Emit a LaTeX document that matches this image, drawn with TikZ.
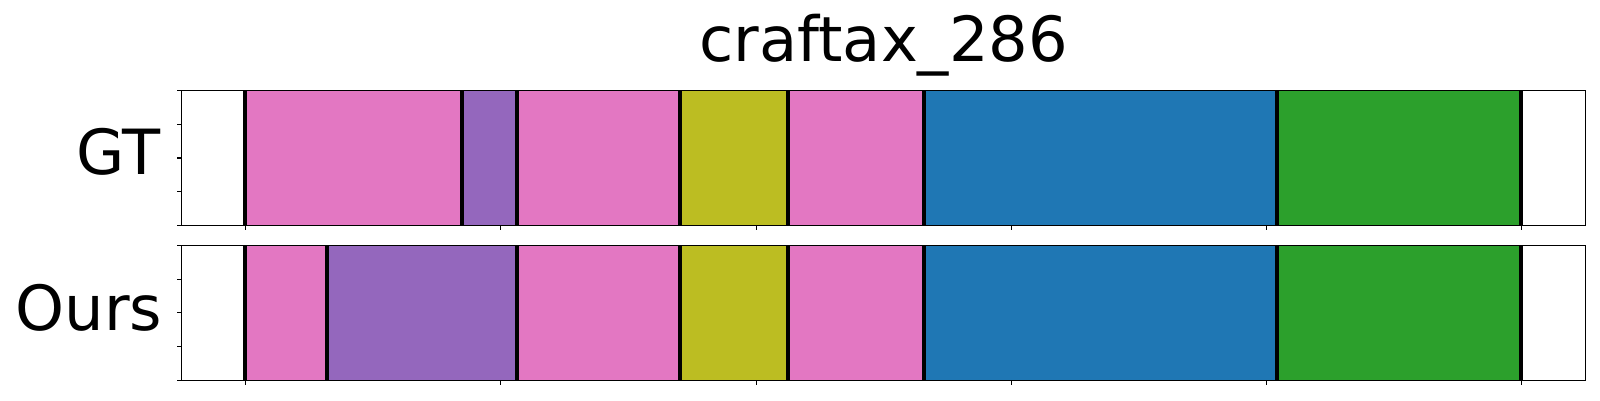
\documentclass[tikz,border=0pt]{standalone}
\usepackage{fontspec}
\setmainfont{DejaVu Sans}
\definecolor{tpink}{HTML}{E377C2}
\definecolor{tpurple}{HTML}{9467BD}
\definecolor{tolive}{HTML}{BCBD22}
\definecolor{tblue}{HTML}{1F77B4}
\definecolor{tgreen}{HTML}{2CA02C}
\tikzset{
  seg/.style={line width=0.8pt},
  bound/.style={line width=4pt, black},
  frame/.style={line width=1.1pt, black},
  tickmark/.style={line width=1.1pt, black},
  bigtext/.style={inner sep=0pt, font=\fontsize{62.3}{70}\selectfont}
}
\begin{document}
\begin{tikzpicture}[x=1pt,y=-1pt]
\useasboundingbox (0,0) rectangle (1600,400);
% GT row: top 90.7, bottom 225.3
\foreach \a/\b/\c in {244.7/462/tpink, 462/517/tpurple, 517/680.2/tpink, 680.2/787.7/tolive, 787.7/924/tpink, 924/1276.7/tblue, 1276.7/1521/tgreen}{
  \filldraw[seg, fill=\c, draw=\c!85!black] (\a,90.7) rectangle (\b,225.3);
}
% Ours row: top 245.3, bottom 380.5
\foreach \a/\b/\c in {244.7/327/tpink, 327/517/tpurple, 517/680.2/tpink, 680.2/787.7/tolive, 787.7/924/tpink, 924/1276.7/tblue, 1276.7/1521/tgreen}{
  \filldraw[seg, fill=\c, draw=\c!85!black] (\a,245.3) rectangle (\b,380.5);
}
% boundaries
\foreach \x in {244.7, 462, 517, 680.2, 787.7, 924, 1276.7, 1521}{
  \draw[bound] (\x,90.7) -- (\x,225.3);
}
\foreach \x in {244.7, 327, 517, 680.2, 787.7, 924, 1276.7, 1521}{
  \draw[bound] (\x,245.3) -- (\x,380.5);
}
% frames
\draw[frame] (181.7,90.7) rectangle (1585.7,225.3);
\draw[frame] (181.7,245.3) rectangle (1585.7,380.5);
% x ticks
\foreach \x in {245.7, 500.9, 756.1, 1011.3, 1266.5, 1521.7}{
  \draw[tickmark] (\x,225.3) -- ++(0,4.9);
  \draw[tickmark] (\x,380.5) -- ++(0,4.9);
}
% y ticks
\foreach \y in {90.7, 124.35, 158, 191.65, 225.3}{
  \draw[tickmark] (181.7,\y) -- ++(-4.9,0);
}
\foreach \y in {245.3, 279.1, 312.9, 346.7, 380.5}{
  \draw[tickmark] (181.7,\y) -- ++(-4.9,0);
}
% texts
\node[bigtext, anchor=base] (title) at (883.7,61.7) {craftax\_286};
\node[bigtext, anchor=base east] (gt) at (160.5,174) {GT};
\node[bigtext, anchor=base east] (ours) at (162.5,330.5) {Ours};
\end{tikzpicture}
\end{document}
